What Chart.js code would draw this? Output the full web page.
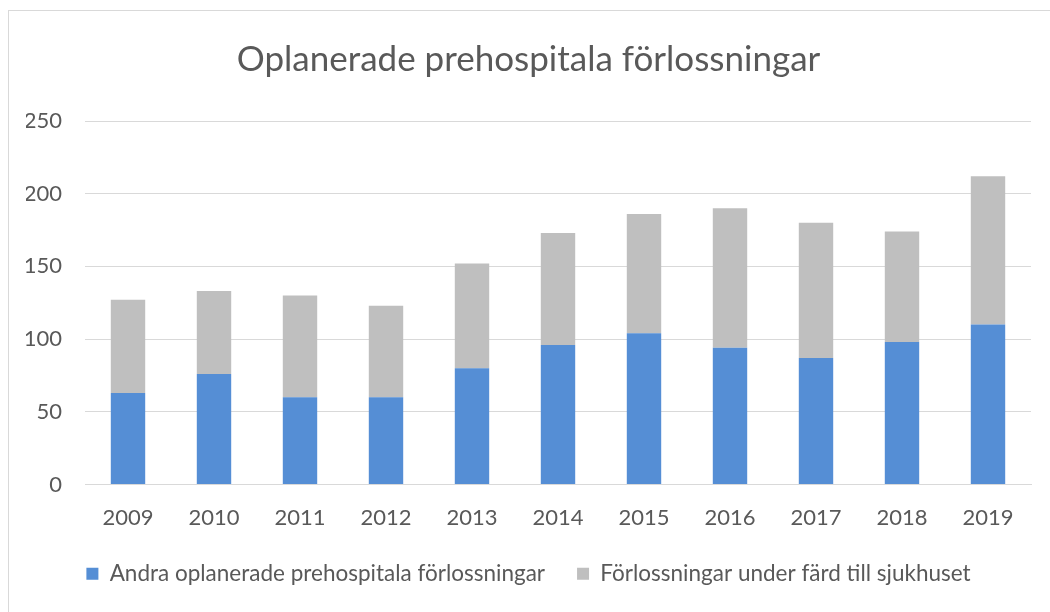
<!DOCTYPE html>
<html>
<head>
<meta charset="utf-8">
<script src="https://cdn.jsdelivr.net/npm/chart.js@4"></script>
<style>
  html, body { margin: 0; padding: 0; background: #ffffff; }
  #wrap { position: relative; width: 1050px; height: 612px; overflow: hidden; }
  #frame { position: absolute; left: 8px; top: 10px; width: 1060px; height: 620px; border: 1px solid #d9d9d9; box-sizing: border-box; }
  canvas { position: absolute; left: 0; top: 0; }
</style>
</head>
<body>
<div id="wrap">
  <div id="frame"></div>
  <canvas id="c" width="1050" height="612"></canvas>
</div>
<script>
const categories = ['2009','2010','2011','2012','2013','2014','2015','2016','2017','2018','2019'];
const andraOplanerade = [63, 76, 60, 60, 80, 96, 104, 94, 87, 98, 110];
const underFard = [64, 57, 70, 63, 72, 77, 82, 96, 93, 76, 102];
const seriesNames = ['Andra oplanerade prehospitala förlossningar', 'Förlossningar under färd till sjukhuset'];
const yTicks = [0, 50, 100, 150, 200, 250];
const titleText = 'Oplanerade prehospitala förlossningar';

const FONT = 'Lato, "Open Sans", sans-serif';
const TXT = '#595959';

new Chart(document.getElementById('c'), {
  type: 'bar',
  data: {
    labels: categories,
    datasets: [
      { label: seriesNames[0], data: andraOplanerade, backgroundColor: '#558ed5', borderWidth: 0, barPercentage: 0.8, categoryPercentage: 0.5 },
      { label: seriesNames[1], data: underFard, backgroundColor: '#bfbfbf', borderWidth: 0, barPercentage: 0.8, categoryPercentage: 0.5 }
    ]
  },
  options: {
    responsive: false,
    animation: false,
    devicePixelRatio: 1,
    layout: { padding: { left: 26, right: 19, top: 0, bottom: 17 } },
    plugins: {
      title: {
        display: true,
        text: titleText,
        color: TXT,
        font: { family: FONT, size: 35, weight: 'normal' },
        padding: { top: 39, bottom: 40 }
      },
      legend: {
        position: 'bottom',
        labels: {
          color: TXT,
          font: { family: FONT, size: 22.5 },
          boxWidth: 12,
          boxHeight: 12,
          padding: 32
        }
      },
      tooltip: { enabled: false }
    },
    scales: {
      x: {
        stacked: true,
        grid: { display: false, drawTicks: false },
        border: { display: true, color: '#d9d9d9', width: 1 },
        ticks: { color: TXT, font: { family: FONT, size: 22 }, padding: 20 },
        afterFit: (axis) => { axis.height = 46; }
      },
      y: {
        stacked: true,
        min: 0,
        max: 250,
        afterBuildTicks: (axis) => { axis.ticks = yTicks.map(v => ({ value: v })); },
        grid: { color: '#d9d9d9', lineWidth: 1, drawTicks: false },
        border: { display: false },
        ticks: { color: TXT, font: { family: FONT, size: 22 }, padding: 23 },
        afterFit: (axis) => { axis.width = 59; }
      }
    }
  }
});
</script>
</body>
</html>
